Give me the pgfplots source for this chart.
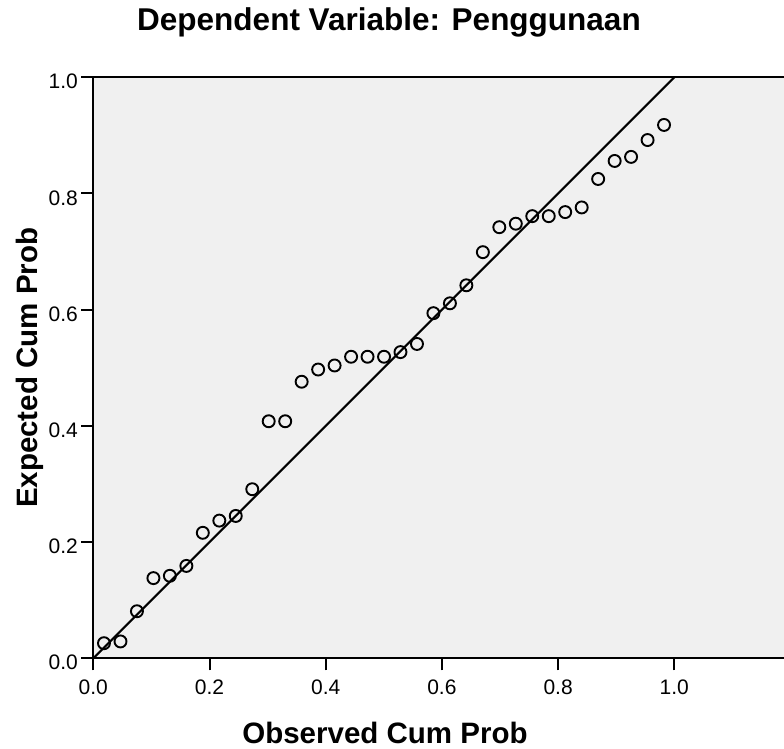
\documentclass[border=0pt]{standalone}
\usepackage{pgfplots}
\pgfplotsset{compat=1.18}
\usepackage{fontspec}
\setmainfont{Liberation Sans}
\definecolor{bgc}{HTML}{F0F0F0}
\begin{document}
\begin{tikzpicture}
\begin{axis}[
  at={(93.3pt,90.7pt)}, anchor=south west,
  width=690.7pt, height=581pt, scale only axis,
  xmin=0, xmax=1.1888, ymin=0, ymax=1,
  clip=false,
  axis x line*=bottom, axis y line*=left,
  axis line style={line width=2pt, black},
  axis background/.style={fill=bgc},
  tick align=outside, major tick length=12pt,
  every tick/.style={black, line width=2pt},
  xtick={0,0.2,0.4,0.6,0.8,1.0}, ytick={0,0.2,0.4,0.6,0.8,1.0},
  /pgf/number format/fixed, /pgf/number format/fixed zerofill,
  /pgf/number format/precision=1, /pgf/number format/assume math mode=true,
  tick label style={font=\fontsize{21}{21}\selectfont, inner sep=0pt},
  xticklabel style={anchor=base, yshift=-23.7pt},
  yticklabel style={anchor=base east, xshift=-3.3pt, yshift=-11.7pt},
  title={Dependent Variable: Penggunaan},
  title style={at={(axis description cs:0.4281,1.0694)}, anchor=base, inner sep=0pt,
    font=\fontsize{31.5}{31.5}\selectfont\bfseries},
  xlabel={Observed Cum Prob},
  xlabel style={at={(axis description cs:0.4223,-0.1458)}, anchor=base, inner sep=0pt,
    font=\fontsize{29.5}{29.5}\selectfont\bfseries},
  ylabel={Expected Cum Prob},
  ylabel style={at={(axis description cs:-0.0815,0.5)}, anchor=base, inner sep=0pt,
    font=\fontsize{29.5}{29.5}\selectfont\bfseries},
]
\addplot[black, line width=2pt, no marks] coordinates {(0,0) (1,1)};
\addplot[only marks, mark=o, mark size=6pt, mark options={line width=1.9pt, black}] coordinates {
(0.0184,0.026) (0.0468,0.029) (0.0751,0.081) (0.1035,0.138) (0.1318,0.142)
(0.1602,0.159) (0.1885,0.216) (0.2169,0.237) (0.2452,0.245) (0.2736,0.291)
(0.3019,0.408) (0.3303,0.408) (0.3586,0.476) (0.3870,0.497) (0.4153,0.504)
(0.4437,0.519) (0.4720,0.519) (0.5004,0.519) (0.5287,0.527) (0.5571,0.541)
(0.5854,0.594) (0.6138,0.611) (0.6421,0.642) (0.6705,0.699) (0.6988,0.742)
(0.7272,0.748) (0.7555,0.761) (0.7839,0.761) (0.8122,0.768) (0.8406,0.776)
(0.8689,0.825) (0.8973,0.856) (0.9256,0.863) (0.9540,0.892) (0.9823,0.918)
};
\draw[line width=2pt, black] (rel axis cs:0,1) -- (rel axis cs:1,1);
\end{axis}
\pgfresetboundingbox
\path[use as bounding box] (0,0) rectangle (784pt,749pt);
\end{tikzpicture}
\end{document}
